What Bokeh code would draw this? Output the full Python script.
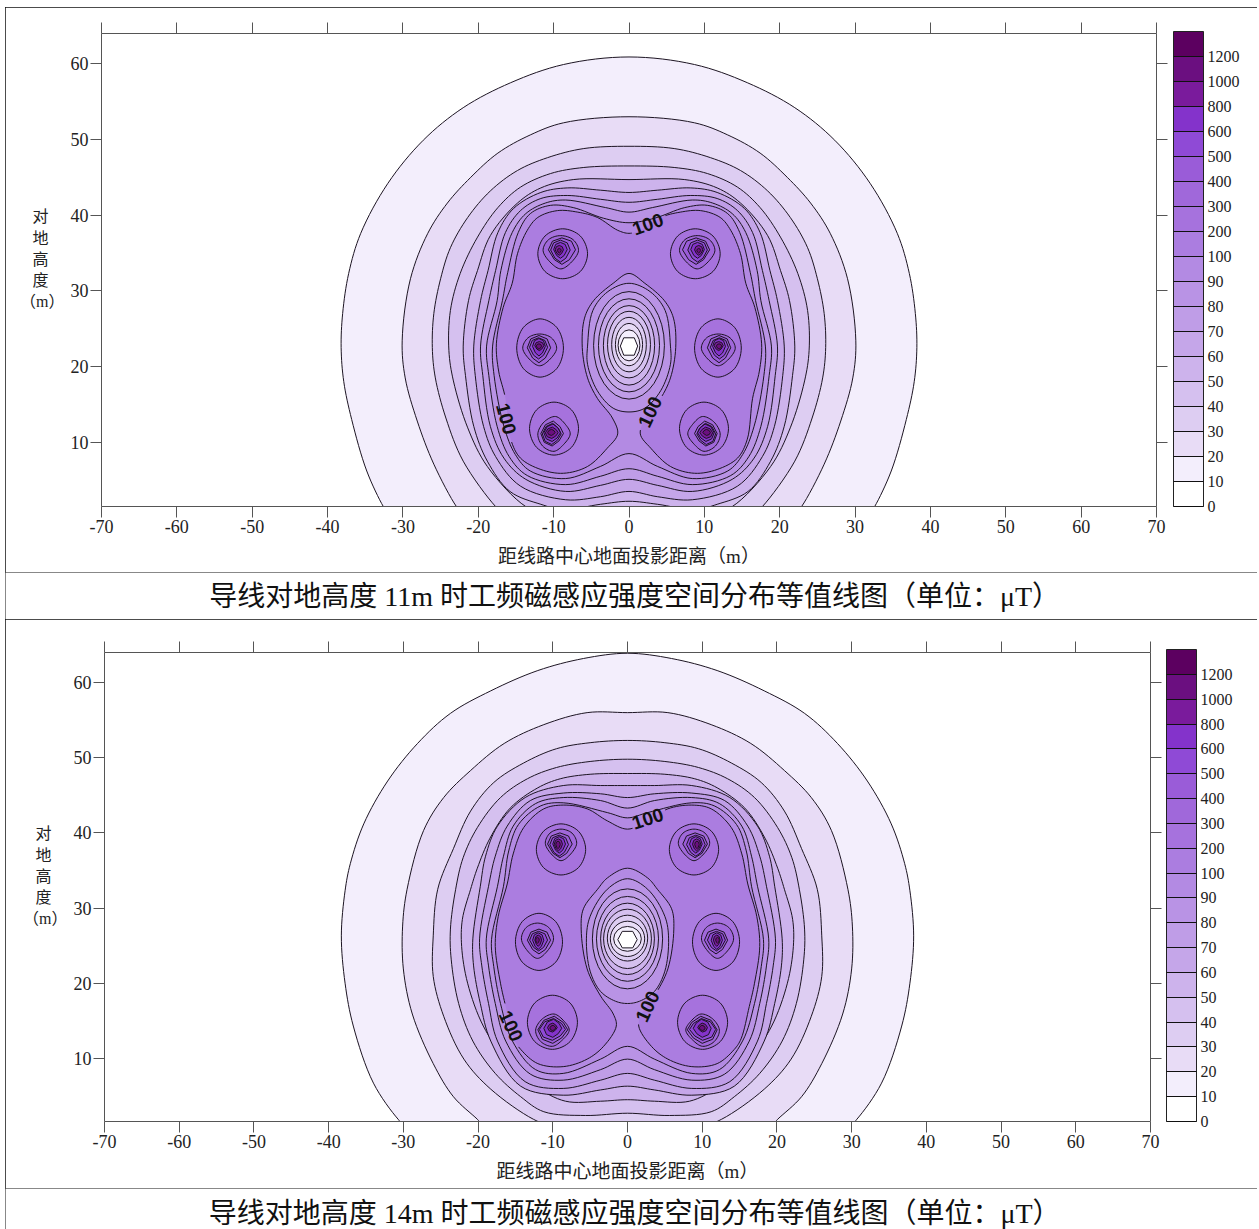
from bokeh.plotting import figure
from bokeh.models import (Range1d, LinearAxis, FixedTicker, Label,
                          ColorBar, LinearColorMapper, ColumnDataSource)
from bokeh.core.properties import value
from bokeh.embed import file_html
from bokeh.resources import INLINE

SERIF = "Liberation Serif, Noto Sans CJK SC"

LEVEL_LABELS = ["0","10","20","30","40","50","60","70","80","90","100","200","300","400","500","600","800","1000","1200"]
BAND_COLORS = ["#ffffff","#f3eefc","#e8dcf6","#ddcdf2","#d5c0ef","#cdb3ec","#c5a6e9","#bf9de7","#b993e5","#b38ae3",
               "#ab7de0","#a672dd","#a068da","#9a5cd8","#8f4ad6","#8433cb","#7a1b9c","#6b0f80","#5c0060"]
X_TICKS = [-70,-60,-50,-40,-30,-20,-10,0,10,20,30,40,50,60,70]
Y_TICKS = [10,20,30,40,50,60]
Y_TITLE = "对\u3000\n地\u3000\n高\u3000\n度\u3000\n（m）\n "
X_TITLE = "距线路中心地面投影距离（m）"
CAPTION_A = "导线对地高度 11m 时工频磁感应强度空间分布等值线图（单位：μT）"
CAPTION_B = "导线对地高度 14m 时工频磁感应强度空间分布等值线图（单位：μT）"

# ---- chart A: left half of each contour, in metres ----
A_10 = [(0,60.9),(-8.7,59.9),(-15.7,57.5),(-22.0,54.2),(-27.3,49.9),(-32.0,44.2),(-35.6,37.6),(-37.2,32.3),(-38.0,27.0),(-38.2,22.5),(-37.85,18.0),(-36.8,13.0),(-34.8,6.2),(-32.6,1.5),(-31.9,0.5)]
A_20 = [(0,53.0),(-8.7,52.2),(-13.1,50.6),(-17.4,48.2),(-21.0,45.0),(-24.1,41.6),(-26.7,37.6),(-29.0,31.6),(-30.1,23.4),(-29.7,18.5),(-28.1,12.8),(-25.9,7.1),(-22.9,1.5),(-22.0,0.5)]
A_30 = [(0,49.1),(-6.0,48.8),(-10.8,47.6),(-14.8,45.9),(-18.4,43.2),(-21.4,39.7),(-23.7,35.7),(-25.0,31.6),(-25.9,27.0),(-26.1,22.5),(-25.7,18.5),(-24.3,13.2),(-22.0,7.5),(-17.7,1.5),(-16.5,0.5)]
A_40 = [(0,46.5),(-6.0,46.3),(-10.4,45.5),(-14.4,43.7),(-17.4,41.0),(-20.1,37.1),(-22.4,32.3),(-23.7,27.4),(-23.9,22.1),(-23.3,18.1),(-21.4,11.9),(-18.8,6.8),(-13.7,1.5),(-11.0,0.6),(-5.0,0.4)]
A_50 = [(0,44.7),(-7.4,44.7),(-11.7,43.6),(-14.8,41.6),(-18.4,37.3),(-20.1,32.7),(-21.3,28.7),(-22.0,22.7),(-21.7,18.8),(-20.6,12.1),(-18.8,7.5),(-15.8,3.5),(-11.7,1.8),(-8.7,1.1),(-3.8,1.8),(0,2.2)]
A_60 = [(0,43.0),(-3.8,43.3),(-8.2,43.6),(-11.7,43.0),(-15.3,40.9),(-17.4,37.7),(-18.7,32.7),(-19.7,28.7),(-20.6,22.7),(-20.4,18.8),(-19.3,12.1),(-17.7,8.1),(-14.4,4.2),(-8.4,2.4),(-3.8,2.8),(0,3.5)]
A_70 = [(0,41.7),(-3.8,42.1),(-8.2,42.6),(-11.7,42.2),(-14.4,40.6),(-16.4,37.7),(-17.7,32.7),(-18.6,28.7),(-19.7,22.7),(-19.4,18.8),(-18.4,12.1),(-16.6,7.9),(-13.7,5.1),(-8.4,3.5),(-3.8,4.3),(0,5.1)]
A_80 = [(0,40.4),(-3.1,41.0),(-8.4,42.0),(-11.1,41.6),(-13.7,40.2),(-15.5,37.7),(-17.0,32.7),(-17.5,28.7),(-18.9,22.7),(-18.6,18.8),(-17.5,12.1),(-15.9,8.1),(-13.5,5.6),(-8.4,4.4),(-3.8,5.5),(0,6.5)]
A_90 = [(0,39.0),(-3.4,39.6),(-7.4,41.0),(-10.4,41.3),(-13.1,40.2),(-14.7,37.7),(-16.1,32.4),(-16.8,28.7),(-18.1,22.7),(-17.9,18.8),(-16.6,12.1),(-15.1,8.4),(-13.1,6.2),(-8.4,5.2),(-3.8,6.8),(0,8.5)]
A_100 = [(0,32.3),(-2.1,31.0),(-4.7,28.7),(-5.9,26.4),(-6.2,22.5),(-5.5,18.5),(-4.2,15.8),(-2.2,13.2),(-1.5,11.1),(-2.9,9.2),(-5.5,6.8),(-8.7,5.9),(-11.7,6.4),(-14.4,7.9),(-15.7,10.4),(-16.4,15.8),(-17.3,19.4),(-17.6,23.0),(-16.7,27.8),(-15.5,31.0),(-14.8,34.9),(-13.5,38.0),(-12.1,39.7),(-9.5,40.6),(-6.8,40.4),(-4.2,39.7),(-1.5,38.0),(0,37.6)]
A_EGG_90 = [(0,31.0),(-2.8,29.9),(-4.8,27.4),(-5.5,22.7),(-5.5,20.3),(-4.2,16.8),(-2.1,14.5),(0,14.0)]
A_EGG_10 = [(-0.7,23.8),(-1.15,22.7),(-0.7,21.5)]
A_RING_LEVEL = [80,70,60,50,40,30,20]
A_RING_Y = [22.8,22.8,22.8,22.9,22.9,22.9,22.8]
A_RING_W = [9.4,8.1,6.8,5.7,4.6,3.6,2.9]
A_RING_H = [14.2,12.3,10.5,8.8,7.2,5.6,4.1]
A_LABEL_X = [2.5,-16.3,2.8]
A_LABEL_Y = [38.8,13.1,14.0]
A_LABEL_DEG = [20,-75,65]
A_LABEL_GAP = [2.3,2.8,2.6]
SPOT_LEVELS = [200,300,400,500,600,800,1000]
# hot spots: left, right, bottom, top of each contour
A_SPOT_TOP = [(-12.1,-5.5,31.6,38.2),(-11.4,-6.7,32.9,37.3),(-10.7,-7.1,33.5,37.0),(-10.4,-7.8,33.8,36.7),(-10.0,-8.2,34.3,36.4),(-9.8,-8.7,34.7,36.0),(-9.5,-9.0,35.0,35.6)]
A_SPOT_MID = [(-14.9,-8.7,18.6,26.3),(-14.1,-9.6,20.1,24.3),(-13.5,-10.4,20.5,24.1),(-13.2,-10.8,21.0,23.8),(-12.8,-11.1,21.4,23.7),(-12.5,-11.3,22.1,23.3),(-12.3,-11.6,22.3,23.0)]
A_SPOT_BOT = [(-13.2,-6.7,8.3,15.3),(-12.1,-7.8,8.8,13.4),(-11.7,-8.7,9.5,12.8),(-11.5,-9.0,9.7,12.5),(-11.3,-9.1,10.1,12.4),(-11.1,-9.4,10.5,12.0),(-10.8,-9.8,10.9,11.7)]

# ---- chart B ----
B_10 = [(0,63.9),(-5.9,63.2),(-12.0,61.6),(-18.3,58.9),(-23.7,55.9),(-28.1,51.9),(-32.1,46.9),(-35.3,41.2),(-37.1,35.9),(-37.8,32.3),(-38.3,26.3),(-37.8,20.0),(-36.7,14.3),(-34.0,6.7),(-30.7,1.9),(-29.5,0.8)]
B_20 = [(0,56.0),(-5.4,56.0),(-11.2,54.4),(-16.5,51.9),(-21.0,48.3),(-24.6,44.7),(-27.3,40.3),(-29.5,32.5),(-30.1,27.6),(-30.0,21.9),(-28.8,15.9),(-26.0,9.3),(-23.3,4.9),(-20.1,1.9),(-19.0,0.8)]
B_30 = [(0,52.3),(-5.0,52.0),(-9.5,51.2),(-13.9,49.3),(-17.9,46.7),(-21.0,42.9),(-23.3,37.9),(-25.4,32.5),(-26.0,26.3),(-26.0,20.9),(-24.6,15.6),(-21.9,9.9),(-18.3,5.9),(-12.6,1.9),(-10.0,1.0),(-4.0,0.8)]
B_40 = [(0,49.8),(-5.0,49.5),(-9.5,48.7),(-13.4,47.2),(-17.0,44.7),(-20.1,40.7),(-22.0,36.7),(-23.0,32.5),(-23.7,27.2),(-23.6,23.2),(-22.6,17.3),(-20.7,12.3),(-17.7,8.0),(-14.3,4.9),(-11.2,2.9),(-5.6,2.4),(0,2.7)]
B_50 = [(0,47.9),(-5.0,47.8),(-9.0,47.2),(-12.0,46.0),(-15.7,43.3),(-18.4,39.3),(-20.1,35.3),(-21.0,32.5),(-22.1,28.5),(-22.2,24.9),(-21.4,20.0),(-19.3,14.3),(-16.3,9.9),(-12.3,6.3),(-8.3,4.3),(-3.6,4.3),(0,4.5)]
B_60 = [(0,46.3),(-3.6,46.3),(-8.6,46.3),(-13.7,44.7),(-17.4,40.9),(-19.0,36.9),(-19.7,32.9),(-20.7,25.9),(-20.6,22.3),(-19.7,17.3),(-18.3,12.3),(-14.3,6.3),(-8.6,5.1),(-3.6,5.8),(0,6.3)]
B_70 = [(0,44.7),(-3.6,45.2),(-8.6,45.3),(-13.0,44.3),(-16.1,40.9),(-17.7,36.9),(-18.6,32.9),(-19.8,25.9),(-19.5,22.3),(-18.6,17.3),(-17.4,12.3),(-13.7,6.9),(-8.6,6.0),(-3.6,7.1),(0,8.0)]
B_80 = [(0,43.3),(-3.6,44.3),(-8.6,44.7),(-12.3,43.9),(-15.3,40.9),(-16.6,36.9),(-17.4,32.9),(-18.9,25.9),(-18.6,22.3),(-17.7,17.3),(-16.3,12.3),(-13.0,7.9),(-8.6,7.1),(-3.6,8.5),(0,9.9)]
B_90 = [(0,42.0),(-2.7,42.7),(-8.6,44.0),(-11.6,43.6),(-14.6,41.1),(-15.9,37.6),(-16.6,32.9),(-18.2,25.8),(-17.9,22.2),(-17.0,17.3),(-15.4,12.3),(-12.3,8.5),(-8.6,8.0),(-3.6,9.9),(0,11.6)]
B_100 = [(0,35.3),(-2.7,34.0),(-4.0,32.5),(-5.9,29.9),(-6.2,27.2),(-5.4,21.9),(-3.6,18.3),(-1.9,15.9),(-1.5,14.3),(-3.2,11.6),(-5.4,9.9),(-8.6,8.9),(-12.0,9.3),(-14.3,11.2),(-15.2,12.6),(-16.3,16.9),(-17.0,20.0),(-17.7,24.9),(-17.3,28.9),(-16.1,33.2),(-15.3,37.2),(-13.9,40.7),(-11.2,43.2),(-8.6,43.7),(-5.4,43.2),(-2.7,41.6),(0,40.5)]
B_EGG_90 = [(0,33.9),(-2.7,32.5),(-5.0,28.9),(-5.5,25.9),(-5.0,21.6),(-3.6,18.9),(-1.6,17.6),(0,17.3)]
B_EGG_10 = [(-0.7,26.9),(-1.3,25.8),(-0.7,24.7)]
B_RING_LEVEL = [80,70,60,50,40,30,20]
B_RING_Y = [25.9,25.9,25.9,25.9,26.0,25.9,25.9]
B_RING_W = [9.4,8.3,7.2,6.4,5.4,4.6,3.7]
B_RING_H = [13.3,11.3,9.5,7.9,6.1,4.7,3.3]
B_LABEL_X = [2.7,-15.6,2.7]
B_LABEL_Y = [41.9,14.3,16.9]
B_LABEL_DEG = [18,-65,65]
B_LABEL_GAP = [2.3,2.8,2.6]
B_SPOT_TOP = [(-12.2,-5.6,34.4,41.2),(-11.0,-6.8,36.3,40.5),(-10.7,-7.4,36.7,40.0),(-10.4,-7.9,36.9,39.7),(-10.0,-8.3,37.3,39.5),(-9.8,-8.7,37.6,39.2),(-9.6,-9.0,37.9,38.9)]
B_SPOT_MID = [(-15.0,-8.7,21.7,29.3),(-14.2,-9.9,23.3,28.0),(-13.4,-10.3,23.9,27.2),(-13.1,-10.7,24.3,26.9),(-12.7,-11.2,24.5,26.7),(-12.4,-11.5,24.9,26.4),(-12.3,-11.8,25.3,26.1)]
B_SPOT_BOT = [(-13.4,-6.7,11.2,18.4),(-12.3,-7.8,11.6,15.9),(-12.0,-8.0,12.0,15.6),(-11.8,-8.3,12.4,15.3),(-11.2,-8.8,12.8,15.2),(-10.7,-9.4,13.5,14.7),(-10.4,-9.6,13.7,14.4)]

LINE = "#1c1422"
AXIS = "#555555"
TEXT = "#222222"
SHAPE_ROUND = [(0,1),(.71,.71),(1,0),(.71,-.71),(0,-1),(-.71,-.71),(-1,0),(-.71,.71)]
SHAPE_DOWN = [(0,1),(.7,.75),(1,.1),(.55,-.65),(0,-1),(-.55,-.65),(-1,.1),(-.7,.75)]
SHAPE_SIDE = [(.1,1),(.7,.55),(1,0),(.6,-.6),(0,-1),(-.7,-.7),(-1,0),(-.6,.7)]


def smooth(pts, n=8):
    """Round a closed outline through its read points (centripetal Catmull-Rom)."""
    out, m = [], len(pts)
    def lerp(a, b, ta, tb, t):
        w = (t-ta)/(tb-ta)
        return (a[0]+(b[0]-a[0])*w, a[1]+(b[1]-a[1])*w)
    for i in range(m):
        p0, p1, p2, p3 = pts[i-1], pts[i], pts[(i+1) % m], pts[(i+2) % m]
        d = lambda a, b: max(((a[0]-b[0])**2+(a[1]-b[1])**2)**0.25, 1e-6)
        t0 = 0; t1 = t0+d(p0, p1); t2 = t1+d(p1, p2); t3 = t2+d(p2, p3)
        for k in range(n):
            t = t1+(t2-t1)*k/n
            a1 = lerp(p0, p1, t0, t1, t); a2 = lerp(p1, p2, t1, t2, t); a3 = lerp(p2, p3, t2, t3, t)
            b1 = lerp(a1, a2, t0, t2, t); b2 = lerp(a2, a3, t1, t3, t)
            out.append(lerp(b1, b2, t1, t2, t))
    return out


def both_sides(half):
    mirrored = [(-x, y) for x, y in reversed(half) if x != 0]
    return list(half) + mirrored


def band(p, outline, color, rounded=True, gaps=()):
    path = smooth(outline) if rounded else list(outline)
    xs = [q[0] for q in path]
    ys = [q[1] for q in path]
    p.patch(xs, ys, fill_color=color, line_color=None)
    lx, ly = [], []
    for x, y in path + [path[0]]:
        if any((x-gx)**2+(y-gy)**2 < r*r for gx, gy, r in gaps):
            lx.append(float("nan")); ly.append(float("nan"))
        else:
            lx.append(x); ly.append(y)
    p.line(lx, ly, line_color=LINE, line_width=1)


def spot(p, boxes, shape, start_color):
    for side in (1, -1):
        for i, (l, r, b, t) in enumerate(boxes):
            cx, cy, hw, hh = (l+r)/2, (b+t)/2, (r-l)/2, (t-b)/2
            use = SHAPE_ROUND if i == 0 else shape
            outline = [(side*(cx+u*hw), cy+v*hh) for u, v in use]
            band(p, outline, BAND_COLORS[start_color+i], rounded=i < 2)


def place(page_top):
    return {"position": "absolute", "left": "5px", "top": f"{page_top}px",
            "outline": "1.5px solid #111111", "outline-offset": "-1.5px"}


def chart(W, H, left, right, top, bottom, ymin, contours, h100, egg90, egg10, rl, ry, rw, rh,
          lx, ly, ld, lg, spots, bar_x, bar_h, page_top):
    p = figure(width=W, height=H, output_backend="svg", toolbar_location=None,
               x_range=Range1d(-70, 70), y_range=Range1d(ymin, 64),
               x_axis_type=None, y_axis_type=None,
               min_border_left=left, min_border_right=right, min_border_top=top, min_border_bottom=bottom,
               styles=place(page_top))
    p.outline_line_color = None
    p.grid.visible = False
    p.background_fill_color = "#ffffff"

    for i, half in enumerate(contours):
        band(p, both_sides(half), BAND_COLORS[i+1])
    gaps = list(zip(lx, ly, lg))
    band(p, both_sides(h100), BAND_COLORS[10], gaps=gaps)
    band(p, both_sides(egg90), BAND_COLORS[8])
    p.ellipse([0]*len(ry), ry, width=rw, height=rh, fill_color=[BAND_COLORS[v//10-1] for v in rl], line_color=LINE, line_width=1)
    band(p, both_sides(egg10), BAND_COLORS[0], rounded=False)
    for boxes, shape in spots:
        spot(p, boxes, shape, 11)
    src = ColumnDataSource(dict(x=lx, y=ly, a=[d*3.14159265/180 for d in ld], t=["100"]*len(lx)))
    p.text("x", "y", text="t", angle="a", source=src, text_align="center", text_baseline="middle",
           text_font=value("Liberation Sans"), text_font_style="bold", text_font_size="19px", text_color="#111111")

    overrides = {v: str(v) for v in X_TICKS}
    def axis(ticks, place_, show, ov):
        a = LinearAxis(ticker=FixedTicker(ticks=ticks), major_label_overrides=ov)
        a.axis_line_color = AXIS
        a.major_tick_line_color = AXIS
        a.major_tick_in = 0
        a.major_tick_out = 11
        a.minor_tick_line_color = None
        a.major_label_text_font = "Liberation Serif"
        a.major_label_text_font_size = "18px"
        a.major_label_text_color = TEXT if show else None
        a.major_label_standoff = 2
        p.add_layout(a, place_)
        return a
    bx = axis(X_TICKS, "below", True, overrides)
    bx.axis_label = X_TITLE
    bx.axis_label_text_font = SERIF
    bx.axis_label_text_font_style = "normal"
    bx.axis_label_text_font_size = "19px"
    bx.axis_label_text_color = TEXT
    bx.axis_label_standoff = 10
    ly_axis = axis(Y_TICKS, "left", True, {v: str(v) for v in Y_TICKS})
    ly_axis.axis_label = Y_TITLE
    ly_axis.axis_label_orientation = "horizontal"
    ly_axis.axis_label_text_font = SERIF
    ly_axis.axis_label_text_font_style = "normal"
    ly_axis.axis_label_text_font_size = "16px"
    ly_axis.axis_label_text_line_height = 1.25
    ly_axis.axis_label_text_color = TEXT
    ly_axis.axis_label_standoff = 3
    axis(X_TICKS, "above", False, overrides)
    axis(Y_TICKS, "right", False, {v: str(v) for v in Y_TICKS})

    mapper = LinearColorMapper(palette=BAND_COLORS, low=0, high=len(BAND_COLORS))
    cb = ColorBar(color_mapper=mapper, ticker=FixedTicker(ticks=list(range(len(LEVEL_LABELS)))),
                  major_label_overrides=dict(enumerate(LEVEL_LABELS)),
                  location=(bar_x, 0), width=30, height=bar_h, padding=0,
                  bar_line_color="#222222", major_tick_line_color="#111111", major_tick_in=30, major_tick_out=0,
                  minor_tick_line_color=None, major_label_text_font="Liberation Serif",
                  major_label_text_font_size="16px", major_label_text_color=TEXT,
                  label_standoff=4, border_line_color=None, background_fill_color=None)
    p.add_layout(cb, "center")
    return p


def caption(W, H, text, y, page_top):
    p = figure(width=W, height=H, output_backend="svg", toolbar_location=None,
               x_range=Range1d(0, 1), y_range=Range1d(0, 1), x_axis_type=None, y_axis_type=None, min_border=0,
               styles=place(page_top))
    p.outline_line_color = None
    p.grid.visible = False
    p.add_layout(Label(x=0.5025, y=y, text=text, text_align="center", text_baseline="middle",
                       text_font=SERIF, text_font_size="28px", text_color="#111111"))
    return p


fig_a = chart(1252, 566, 96, 101, 26, 67, 1.51, [A_10,A_20,A_30,A_40,A_50,A_60,A_70,A_80,A_90], A_100, A_EGG_90, A_EGG_10,
              A_RING_LEVEL, A_RING_Y, A_RING_W, A_RING_H, A_LABEL_X, A_LABEL_Y, A_LABEL_DEG, A_LABEL_GAP,
              [(A_SPOT_TOP, SHAPE_DOWN), (A_SPOT_MID, SHAPE_DOWN), (A_SPOT_BOT, SHAPE_SIDE)],
              1072, 475, 7)
fig_b = chart(1252, 570, 99, 107, 33, 68, 1.6, [B_10,B_20,B_30,B_40,B_50,B_60,B_70,B_80,B_90], B_100, B_EGG_90, B_EGG_10,
              B_RING_LEVEL, B_RING_Y, B_RING_W, B_RING_H, B_LABEL_X, B_LABEL_Y, B_LABEL_DEG, B_LABEL_GAP,
              [(B_SPOT_TOP, SHAPE_DOWN), (B_SPOT_MID, SHAPE_DOWN), (B_SPOT_BOT, SHAPE_SIDE)],
              1062, 472, 619)
cap_a = caption(1252, 48, CAPTION_A, 0.49, 572)
cap_b = caption(1252, 41, CAPTION_B, 0.4, 1188)

open("out.html", "w").write(file_html([fig_a, cap_a, fig_b, cap_b], INLINE))
